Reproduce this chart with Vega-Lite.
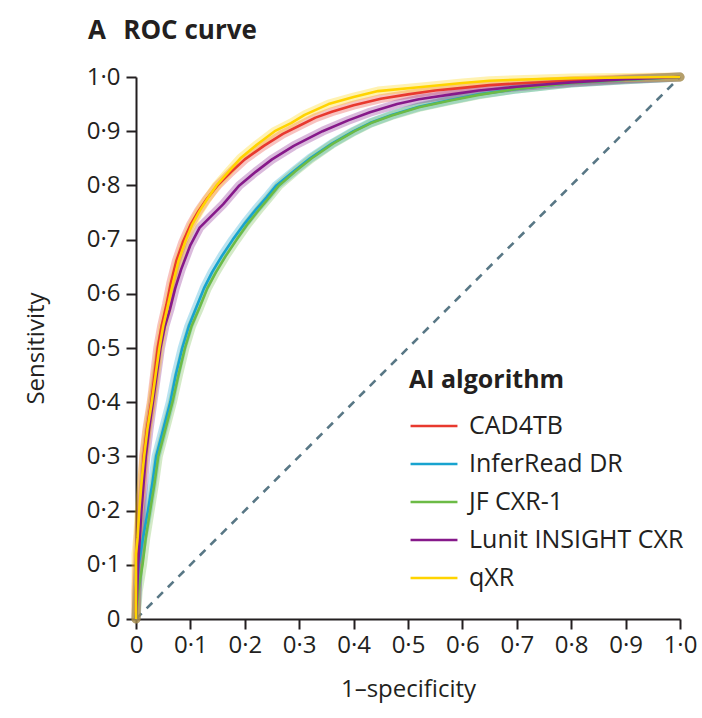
{
  "$schema": "https://vega.github.io/schema/vega-lite/v6.json",
  "width": 544,
  "height": 542,
  "autosize": {"type": "none"},
  "padding": {"left": 136, "top": 77, "right": 22, "bottom": 99},
  "background": "white",
  "title": {
    "text": "A\u2002\u2009ROC curve",
    "anchor": "start",
    "frame": "group",
    "dx": -48,
    "offset": 21,
    "fontSize": 26,
    "fontWeight": "bold",
    "font": "Open Sans",
    "color": "#231f20"
  },
  "datasets": {
    "diag": [{"fpr": 0, "sens": 0}, {"fpr": 1, "sens": 1}],
    "roc": [
      {"algorithm": "CAD4TB", "fpr": 0, "sens": 0},
      {"algorithm": "CAD4TB", "fpr": 0, "sens": 0.05},
      {"algorithm": "CAD4TB", "fpr": 0.002, "sens": 0.1},
      {"algorithm": "CAD4TB", "fpr": 0.004, "sens": 0.15},
      {"algorithm": "CAD4TB", "fpr": 0.008, "sens": 0.2},
      {"algorithm": "CAD4TB", "fpr": 0.011, "sens": 0.25},
      {"algorithm": "CAD4TB", "fpr": 0.014, "sens": 0.3},
      {"algorithm": "CAD4TB", "fpr": 0.02, "sens": 0.35},
      {"algorithm": "CAD4TB", "fpr": 0.028, "sens": 0.4},
      {"algorithm": "CAD4TB", "fpr": 0.034, "sens": 0.45},
      {"algorithm": "CAD4TB", "fpr": 0.04, "sens": 0.5},
      {"algorithm": "CAD4TB", "fpr": 0.047, "sens": 0.54},
      {"algorithm": "CAD4TB", "fpr": 0.056, "sens": 0.58},
      {"algorithm": "CAD4TB", "fpr": 0.064, "sens": 0.62},
      {"algorithm": "CAD4TB", "fpr": 0.074, "sens": 0.66},
      {"algorithm": "CAD4TB", "fpr": 0.086, "sens": 0.695},
      {"algorithm": "CAD4TB", "fpr": 0.1, "sens": 0.727},
      {"algorithm": "CAD4TB", "fpr": 0.115, "sens": 0.753},
      {"algorithm": "CAD4TB", "fpr": 0.13, "sens": 0.775},
      {"algorithm": "CAD4TB", "fpr": 0.15, "sens": 0.8},
      {"algorithm": "CAD4TB", "fpr": 0.175, "sens": 0.825},
      {"algorithm": "CAD4TB", "fpr": 0.2, "sens": 0.848},
      {"algorithm": "CAD4TB", "fpr": 0.235, "sens": 0.873},
      {"algorithm": "CAD4TB", "fpr": 0.27, "sens": 0.895},
      {"algorithm": "CAD4TB", "fpr": 0.3, "sens": 0.91},
      {"algorithm": "CAD4TB", "fpr": 0.33, "sens": 0.925},
      {"algorithm": "CAD4TB", "fpr": 0.36, "sens": 0.936},
      {"algorithm": "CAD4TB", "fpr": 0.4, "sens": 0.948},
      {"algorithm": "CAD4TB", "fpr": 0.45, "sens": 0.96},
      {"algorithm": "CAD4TB", "fpr": 0.5, "sens": 0.968},
      {"algorithm": "CAD4TB", "fpr": 0.55, "sens": 0.975},
      {"algorithm": "CAD4TB", "fpr": 0.6, "sens": 0.98},
      {"algorithm": "CAD4TB", "fpr": 0.65, "sens": 0.985},
      {"algorithm": "CAD4TB", "fpr": 0.7, "sens": 0.988},
      {"algorithm": "CAD4TB", "fpr": 0.8, "sens": 0.993},
      {"algorithm": "CAD4TB", "fpr": 0.9, "sens": 0.997},
      {"algorithm": "CAD4TB", "fpr": 1, "sens": 1},

      {"algorithm": "InferRead DR", "fpr": 0, "sens": 0},
      {"algorithm": "InferRead DR", "fpr": 0.002, "sens": 0.05},
      {"algorithm": "InferRead DR", "fpr": 0.005, "sens": 0.1},
      {"algorithm": "InferRead DR", "fpr": 0.013, "sens": 0.15},
      {"algorithm": "InferRead DR", "fpr": 0.022, "sens": 0.2},
      {"algorithm": "InferRead DR", "fpr": 0.03, "sens": 0.25},
      {"algorithm": "InferRead DR", "fpr": 0.037, "sens": 0.3},
      {"algorithm": "InferRead DR", "fpr": 0.05, "sens": 0.35},
      {"algorithm": "InferRead DR", "fpr": 0.063, "sens": 0.4},
      {"algorithm": "InferRead DR", "fpr": 0.073, "sens": 0.45},
      {"algorithm": "InferRead DR", "fpr": 0.085, "sens": 0.5},
      {"algorithm": "InferRead DR", "fpr": 0.097, "sens": 0.54},
      {"algorithm": "InferRead DR", "fpr": 0.111, "sens": 0.575},
      {"algorithm": "InferRead DR", "fpr": 0.125, "sens": 0.61},
      {"algorithm": "InferRead DR", "fpr": 0.14, "sens": 0.64},
      {"algorithm": "InferRead DR", "fpr": 0.158, "sens": 0.67},
      {"algorithm": "InferRead DR", "fpr": 0.178, "sens": 0.7},
      {"algorithm": "InferRead DR", "fpr": 0.2, "sens": 0.73},
      {"algorithm": "InferRead DR", "fpr": 0.22, "sens": 0.755},
      {"algorithm": "InferRead DR", "fpr": 0.24, "sens": 0.778},
      {"algorithm": "InferRead DR", "fpr": 0.258, "sens": 0.8},
      {"algorithm": "InferRead DR", "fpr": 0.29, "sens": 0.826},
      {"algorithm": "InferRead DR", "fpr": 0.32, "sens": 0.85},
      {"algorithm": "InferRead DR", "fpr": 0.36, "sens": 0.877},
      {"algorithm": "InferRead DR", "fpr": 0.4, "sens": 0.9},
      {"algorithm": "InferRead DR", "fpr": 0.43, "sens": 0.915},
      {"algorithm": "InferRead DR", "fpr": 0.47, "sens": 0.93},
      {"algorithm": "InferRead DR", "fpr": 0.52, "sens": 0.945},
      {"algorithm": "InferRead DR", "fpr": 0.58, "sens": 0.958},
      {"algorithm": "InferRead DR", "fpr": 0.63, "sens": 0.968},
      {"algorithm": "InferRead DR", "fpr": 0.7, "sens": 0.978},
      {"algorithm": "InferRead DR", "fpr": 0.8, "sens": 0.989},
      {"algorithm": "InferRead DR", "fpr": 0.9, "sens": 0.995},
      {"algorithm": "InferRead DR", "fpr": 1, "sens": 1},

      {"algorithm": "JF CXR-1", "fpr": 0, "sens": 0},
      {"algorithm": "JF CXR-1", "fpr": 0.004, "sens": 0.05},
      {"algorithm": "JF CXR-1", "fpr": 0.012, "sens": 0.1},
      {"algorithm": "JF CXR-1", "fpr": 0.018, "sens": 0.15},
      {"algorithm": "JF CXR-1", "fpr": 0.026, "sens": 0.2},
      {"algorithm": "JF CXR-1", "fpr": 0.034, "sens": 0.25},
      {"algorithm": "JF CXR-1", "fpr": 0.041, "sens": 0.3},
      {"algorithm": "JF CXR-1", "fpr": 0.054, "sens": 0.35},
      {"algorithm": "JF CXR-1", "fpr": 0.067, "sens": 0.4},
      {"algorithm": "JF CXR-1", "fpr": 0.078, "sens": 0.45},
      {"algorithm": "JF CXR-1", "fpr": 0.09, "sens": 0.5},
      {"algorithm": "JF CXR-1", "fpr": 0.102, "sens": 0.54},
      {"algorithm": "JF CXR-1", "fpr": 0.117, "sens": 0.575},
      {"algorithm": "JF CXR-1", "fpr": 0.131, "sens": 0.61},
      {"algorithm": "JF CXR-1", "fpr": 0.147, "sens": 0.64},
      {"algorithm": "JF CXR-1", "fpr": 0.165, "sens": 0.67},
      {"algorithm": "JF CXR-1", "fpr": 0.185, "sens": 0.7},
      {"algorithm": "JF CXR-1", "fpr": 0.206, "sens": 0.73},
      {"algorithm": "JF CXR-1", "fpr": 0.226, "sens": 0.755},
      {"algorithm": "JF CXR-1", "fpr": 0.245, "sens": 0.778},
      {"algorithm": "JF CXR-1", "fpr": 0.263, "sens": 0.8},
      {"algorithm": "JF CXR-1", "fpr": 0.293, "sens": 0.826},
      {"algorithm": "JF CXR-1", "fpr": 0.323, "sens": 0.85},
      {"algorithm": "JF CXR-1", "fpr": 0.362, "sens": 0.877},
      {"algorithm": "JF CXR-1", "fpr": 0.402, "sens": 0.9},
      {"algorithm": "JF CXR-1", "fpr": 0.432, "sens": 0.915},
      {"algorithm": "JF CXR-1", "fpr": 0.47, "sens": 0.929},
      {"algorithm": "JF CXR-1", "fpr": 0.52, "sens": 0.944},
      {"algorithm": "JF CXR-1", "fpr": 0.58, "sens": 0.957},
      {"algorithm": "JF CXR-1", "fpr": 0.63, "sens": 0.967},
      {"algorithm": "JF CXR-1", "fpr": 0.7, "sens": 0.978},
      {"algorithm": "JF CXR-1", "fpr": 0.8, "sens": 0.989},
      {"algorithm": "JF CXR-1", "fpr": 0.9, "sens": 0.995},
      {"algorithm": "JF CXR-1", "fpr": 1, "sens": 1},

      {"algorithm": "Lunit INSIGHT CXR", "fpr": 0, "sens": 0},
      {"algorithm": "Lunit INSIGHT CXR", "fpr": 0.002, "sens": 0.05},
      {"algorithm": "Lunit INSIGHT CXR", "fpr": 0.004, "sens": 0.1},
      {"algorithm": "Lunit INSIGHT CXR", "fpr": 0.007, "sens": 0.15},
      {"algorithm": "Lunit INSIGHT CXR", "fpr": 0.01, "sens": 0.2},
      {"algorithm": "Lunit INSIGHT CXR", "fpr": 0.014, "sens": 0.25},
      {"algorithm": "Lunit INSIGHT CXR", "fpr": 0.018, "sens": 0.3},
      {"algorithm": "Lunit INSIGHT CXR", "fpr": 0.024, "sens": 0.35},
      {"algorithm": "Lunit INSIGHT CXR", "fpr": 0.031, "sens": 0.4},
      {"algorithm": "Lunit INSIGHT CXR", "fpr": 0.038, "sens": 0.45},
      {"algorithm": "Lunit INSIGHT CXR", "fpr": 0.045, "sens": 0.5},
      {"algorithm": "Lunit INSIGHT CXR", "fpr": 0.053, "sens": 0.54},
      {"algorithm": "Lunit INSIGHT CXR", "fpr": 0.062, "sens": 0.57},
      {"algorithm": "Lunit INSIGHT CXR", "fpr": 0.072, "sens": 0.61},
      {"algorithm": "Lunit INSIGHT CXR", "fpr": 0.083, "sens": 0.645},
      {"algorithm": "Lunit INSIGHT CXR", "fpr": 0.1, "sens": 0.69},
      {"algorithm": "Lunit INSIGHT CXR", "fpr": 0.117, "sens": 0.722},
      {"algorithm": "Lunit INSIGHT CXR", "fpr": 0.135, "sens": 0.74},
      {"algorithm": "Lunit INSIGHT CXR", "fpr": 0.16, "sens": 0.765},
      {"algorithm": "Lunit INSIGHT CXR", "fpr": 0.19, "sens": 0.8},
      {"algorithm": "Lunit INSIGHT CXR", "fpr": 0.22, "sens": 0.825},
      {"algorithm": "Lunit INSIGHT CXR", "fpr": 0.25, "sens": 0.848},
      {"algorithm": "Lunit INSIGHT CXR", "fpr": 0.29, "sens": 0.873},
      {"algorithm": "Lunit INSIGHT CXR", "fpr": 0.343, "sens": 0.9},
      {"algorithm": "Lunit INSIGHT CXR", "fpr": 0.39, "sens": 0.92},
      {"algorithm": "Lunit INSIGHT CXR", "fpr": 0.43, "sens": 0.935},
      {"algorithm": "Lunit INSIGHT CXR", "fpr": 0.48, "sens": 0.95},
      {"algorithm": "Lunit INSIGHT CXR", "fpr": 0.52, "sens": 0.959},
      {"algorithm": "Lunit INSIGHT CXR", "fpr": 0.58, "sens": 0.968},
      {"algorithm": "Lunit INSIGHT CXR", "fpr": 0.63, "sens": 0.975},
      {"algorithm": "Lunit INSIGHT CXR", "fpr": 0.7, "sens": 0.982},
      {"algorithm": "Lunit INSIGHT CXR", "fpr": 0.8, "sens": 0.99},
      {"algorithm": "Lunit INSIGHT CXR", "fpr": 0.9, "sens": 0.996},
      {"algorithm": "Lunit INSIGHT CXR", "fpr": 1, "sens": 1},

      {"algorithm": "qXR", "fpr": 0, "sens": 0},
      {"algorithm": "qXR", "fpr": 0, "sens": 0.12},
      {"algorithm": "qXR", "fpr": 0.003, "sens": 0.15},
      {"algorithm": "qXR", "fpr": 0.006, "sens": 0.2},
      {"algorithm": "qXR", "fpr": 0.01, "sens": 0.25},
      {"algorithm": "qXR", "fpr": 0.015, "sens": 0.3},
      {"algorithm": "qXR", "fpr": 0.021, "sens": 0.35},
      {"algorithm": "qXR", "fpr": 0.029, "sens": 0.4},
      {"algorithm": "qXR", "fpr": 0.036, "sens": 0.45},
      {"algorithm": "qXR", "fpr": 0.043, "sens": 0.5},
      {"algorithm": "qXR", "fpr": 0.05, "sens": 0.54},
      {"algorithm": "qXR", "fpr": 0.059, "sens": 0.58},
      {"algorithm": "qXR", "fpr": 0.068, "sens": 0.62},
      {"algorithm": "qXR", "fpr": 0.078, "sens": 0.66},
      {"algorithm": "qXR", "fpr": 0.09, "sens": 0.695},
      {"algorithm": "qXR", "fpr": 0.103, "sens": 0.727},
      {"algorithm": "qXR", "fpr": 0.117, "sens": 0.753},
      {"algorithm": "qXR", "fpr": 0.131, "sens": 0.775},
      {"algorithm": "qXR", "fpr": 0.148, "sens": 0.8},
      {"algorithm": "qXR", "fpr": 0.17, "sens": 0.825},
      {"algorithm": "qXR", "fpr": 0.192, "sens": 0.85},
      {"algorithm": "qXR", "fpr": 0.222, "sens": 0.875},
      {"algorithm": "qXR", "fpr": 0.255, "sens": 0.9},
      {"algorithm": "qXR", "fpr": 0.285, "sens": 0.915},
      {"algorithm": "qXR", "fpr": 0.31, "sens": 0.93},
      {"algorithm": "qXR", "fpr": 0.354, "sens": 0.95},
      {"algorithm": "qXR", "fpr": 0.4, "sens": 0.963},
      {"algorithm": "qXR", "fpr": 0.445, "sens": 0.974},
      {"algorithm": "qXR", "fpr": 0.52, "sens": 0.981},
      {"algorithm": "qXR", "fpr": 0.6, "sens": 0.989},
      {"algorithm": "qXR", "fpr": 0.65, "sens": 0.993},
      {"algorithm": "qXR", "fpr": 0.7, "sens": 0.995},
      {"algorithm": "qXR", "fpr": 0.8, "sens": 0.998},
      {"algorithm": "qXR", "fpr": 0.9, "sens": 0.999},
      {"algorithm": "qXR", "fpr": 1, "sens": 1}
    ]
  },
  "encoding": {
    "x": {
      "field": "fpr",
      "type": "quantitative",
      "scale": {"domain": [0, 1], "nice": false},
      "axis": {
        "title": "1–specificity",
        "values": [0, 0.1, 0.2, 0.3, 0.4, 0.5, 0.6, 0.7, 0.8, 0.9, 1],
        "labelExpr": "datum.value == 0 ? '0' : replace(format(datum.value, '.1f'), '.', '·')",
        "labelPadding": 4,
        "titlePadding": 20,
        "labelFlush": false,
        "labelOverlap": false
      }
    },
    "y": {
      "field": "sens",
      "type": "quantitative",
      "scale": {"domain": [0, 1], "nice": false},
      "axis": {
        "title": "Sensitivity",
        "values": [0, 0.1, 0.2, 0.3, 0.4, 0.5, 0.6, 0.7, 0.8, 0.9, 1],
        "labelExpr": "datum.value == 0 ? '0' : replace(format(datum.value, '.1f'), '.', '·')",
        "labelPadding": 6,
        "titlePadding": 38,
        "labelFlush": false,
        "labelOverlap": false
      }
    }
  },
  "layer": [
    {
      "data": {"name": "diag"},
      "mark": {"type": "line", "color": "#587785", "strokeWidth": 2.6, "strokeDash": [8, 7], "clip": false}
    },
    {
      "data": {"name": "roc"},
      "mark": {"type": "line", "strokeWidth": 9, "opacity": 0.3, "strokeJoin": "round", "strokeCap": "round"},
      "encoding": {
        "order": {"field": "sens", "type": "quantitative"},
        "color": {"field": "algorithm", "type": "nominal", "legend": null}
      }
    },
    {
      "data": {"name": "roc"},
      "mark": {"type": "line", "strokeWidth": 2.6, "strokeJoin": "round"},
      "encoding": {
        "order": {"field": "sens", "type": "quantitative"},
        "color": {
          "field": "algorithm",
          "type": "nominal",
          "scale": {
            "domain": ["CAD4TB", "InferRead DR", "JF CXR-1", "Lunit INSIGHT CXR", "qXR"],
            "range": ["#e8392e", "#18a3cf", "#6cbb46", "#86198a", "#ffd400"]
          },
          "legend": {
            "title": "AI algorithm",
            "orient": "none",
            "legendX": 273,
            "legendY": 291,
            "symbolType": "stroke",
            "symbolSize": 2200,
            "symbolStrokeWidth": 2.6,
            "symbolOpacity": 1,
            "labelFontSize": 25,
            "labelLimit": 0,
            "titleFontSize": 25,
            "titleFontWeight": "bold",
            "titlePadding": 8,
            "labelOffset": 10,
            "rowPadding": 0
          }
        }
      }
    }
  ],
  "resolve": {"scale": {"color": "shared"}, "legend": {"color": "independent"}},
  "config": {
    "font": "Open Sans",
    "view": {"stroke": null},
    "axis": {
      "grid": false,
      "domainColor": "#231f20",
      "domainWidth": 2,
      "tickColor": "#231f20",
      "tickWidth": 2,
      "tickSize": 10,
      "labelFontSize": 24,
      "labelColor": "#231f20",
      "titleFontSize": 24,
      "titleFontWeight": "normal",
      "titleColor": "#231f20",
      "labelFont": "Open Sans",
      "titleFont": "Open Sans"
    },
    "legend": {
      "labelColor": "#231f20",
      "titleColor": "#231f20",
      "labelFont": "Open Sans",
      "titleFont": "Open Sans"
    }
  }
}
